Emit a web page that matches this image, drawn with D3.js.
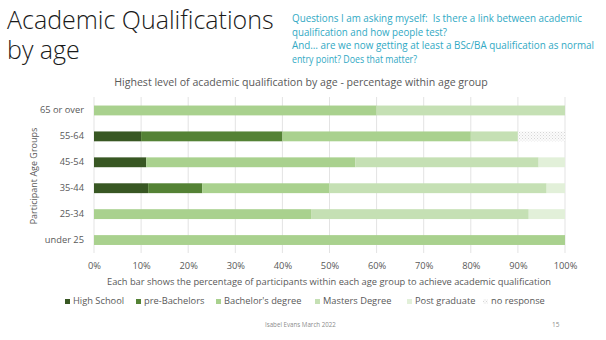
<!DOCTYPE html>
<html><head><meta charset="utf-8">
<script src="https://cdn.jsdelivr.net/npm/d3@7"></script>
<style>
html,body{margin:0;padding:0;background:#fff;}
svg{display:block;font-family:"Open Sans",sans-serif;}
</style></head>
<body>
<svg id="c" width="606" height="340"></svg>
<script>
const ageGroups = ["65 or over","55-64","45-54","35-44","25-34","under 25"];
const seriesNames = ["High School","pre-Bachelors","Bachelor's degree","Masters Degree","Post graduate","no response"];
const highSchool   = [0, 10, 11.1, 11.5, 0, 0];
const preBachelors = [0, 30, 0, 11.5, 0, 0];
const bachelors    = [60, 40, 44.4, 26.9, 46.2, 100];
const masters      = [40, 10, 38.9, 46.2, 46.1, 0];
const postGrad     = [0, 0, 5.6, 3.9, 7.7, 0];
const noResponse   = [0, 10, 0, 0, 0, 0];
const xTicks = [0,10,20,30,40,50,60,70,80,90,100];
const colors = ["#385723","#548235","#a9d18e","#c5e0b4","#e2f0d9","url(#dots)"];

const rows = ageGroups.map((g,i)=>({group:g,
  "High School":highSchool[i],"pre-Bachelors":preBachelors[i],"Bachelor's degree":bachelors[i],
  "Masters Degree":masters[i],"Post graduate":postGrad[i],"no response":noResponse[i]}));

const svg = d3.select("#c");
const defs = svg.append("defs");
const pat = defs.append("pattern").attr("id","dots").attr("patternUnits","userSpaceOnUse")
  .attr("width",3).attr("height",3);
pat.append("rect").attr("width",3).attr("height",3).attr("fill","#fbfbfb");
pat.append("rect").attr("x",0).attr("y",0).attr("width",1).attr("height",1).attr("fill","#d6d6d6");
pat.append("rect").attr("x",1.5).attr("y",1.5).attr("width",1).attr("height",1).attr("fill","#e2e2e2");

// Slide title
const t = svg.append("text").attr("x",7).attr("fill","#1a1a1a").attr("font-size",25).attr("font-weight",300)
  .attr("font-family","'Open Sans',sans-serif");
t.append("tspan").attr("x",7).attr("y",29).text("Academic Qualifications");
t.append("tspan").attr("x",7).attr("y",59).text("by age");

const qLines = ["Questions I am asking myself:  Is there a link between academic",
 "qualification and how people test?",
 "And… are we now getting at least a BSc/BA qualification as normal",
 "entry point? Does that matter?"];
const qLens = [290,155,302,125];
svg.append("g").selectAll("text").data(qLines).join("text")
  .attr("fill","#31a9c4").attr("font-size",9.9).attr("x",292).attr("y",(d,i)=>22+i*13.6)
  .attr("xml:space","preserve").attr("textLength",(d,i)=>qLens[i]).attr("lengthAdjust","spacingAndGlyphs")
  .text(d=>d);

// chart title
svg.append("text").attr("x",301).attr("y",86).attr("text-anchor","middle")
  .attr("fill","#595959").attr("font-size",10.6).text("Highest level of academic qualification by age - percentage within age group");

const x = d3.scaleLinear().domain([0,100]).range([94,565]);
const y = d3.scaleBand().domain(ageGroups).range([97.5,253]).paddingInner(0.62).paddingOuter(0.31);

// gridlines
svg.append("g").selectAll("line").data(xTicks).join("line")
  .attr("x1",d=>x(d)).attr("x2",d=>x(d)).attr("y1",97).attr("y2",253)
  .attr("stroke","#e3e3e3").attr("stroke-width",1);

const stack = d3.stack().keys(seriesNames)(rows);
svg.append("g").selectAll("g").data(stack).join("g")
  .attr("fill",(d,i)=>colors[i])
  .selectAll("rect").data(d=>d).join("rect")
  .attr("x",d=>x(d[0])).attr("width",d=>x(d[1])-x(d[0]))
  .attr("y",d=>y(d.data.group)).attr("height",y.bandwidth());

// y axis labels
const yAxis = svg.append("g").attr("transform","translate(90,0)")
  .call(d3.axisLeft(y).tickSize(0).tickPadding(6));
yAxis.select(".domain").remove();
yAxis.selectAll("text").attr("fill","#595959").attr("font-size",9.3).attr("font-family","'Open Sans',sans-serif");

// x axis labels
const xAxis = svg.append("g").attr("transform","translate(0,258)")
  .call(d3.axisBottom(x).tickValues(xTicks).tickFormat(d=>d+"%").tickSize(0).tickPadding(4));
xAxis.select(".domain").remove();
xAxis.selectAll("text").attr("fill","#595959").attr("font-size",9.3).attr("font-family","'Open Sans',sans-serif");

svg.append("text").attr("x",329).attr("y",285).attr("text-anchor","middle").attr("fill","#595959")
  .attr("font-size",9.3).text("Each bar shows the percentage of participants within each age group to achieve academic qualification");

svg.append("text").attr("transform","translate(37,176) rotate(-90)").attr("text-anchor","middle")
  .attr("fill","#595959").attr("font-size",9).text("Participant Age Groups");

// legend
const legX = [65,136,216,315,407,483];
const leg = svg.append("g").selectAll("g").data(seriesNames).join("g")
  .attr("transform",(d,i)=>`translate(${legX[i]},304)`);
leg.append("rect").attr("x",0).attr("y",-5).attr("width",5).attr("height",5).attr("fill",(d,i)=>colors[i]);
leg.append("text").attr("x",8).attr("y",0).attr("fill","#595959").attr("font-size",9.3).text(d=>d);

// footer
svg.append("text").attr("x",265).attr("y",327).attr("fill","#8c8c8c").attr("font-size",6.2).text("Isabel Evans March 2022");
svg.append("text").attr("x",552).attr("y",327).attr("fill","#8c8c8c").attr("font-size",6.5).text("15");
</script>
</body></html>
